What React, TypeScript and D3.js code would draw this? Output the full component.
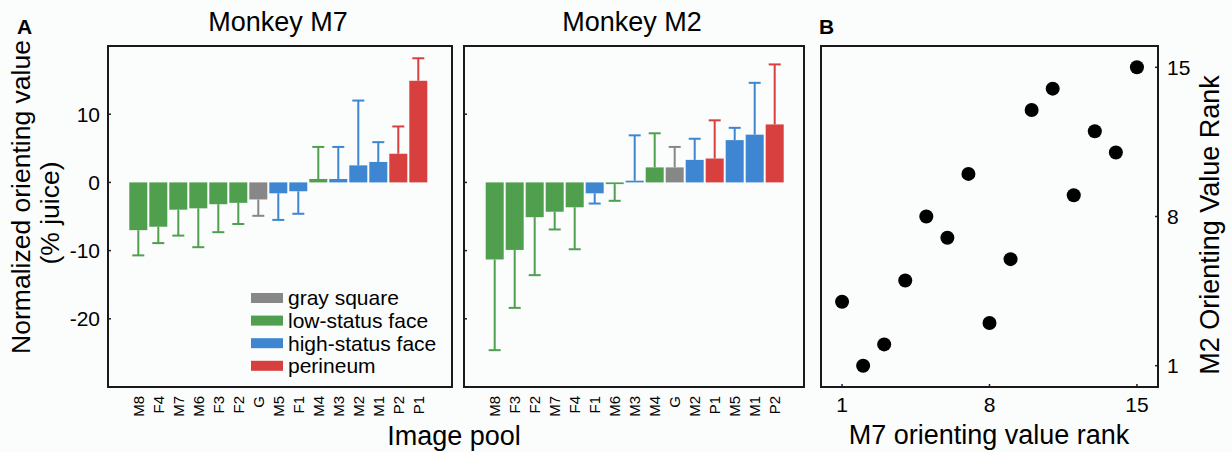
import React from "react";
import * as d3 from "d3";

const m7Categories = ["M8","F4","M7","M6","F3","F2","G","M5","F1","M4","M3","M2","M1","P2","P1"];
const m7Types = ["low","low","low","low","low","low","gray","high","high","low","high","high","high","per","per"];
const m7Values = [-7.0,-6.5,-4.0,-3.8,-3.2,-3.0,-2.5,-1.6,-1.3,0.5,0.5,2.5,3.0,4.2,14.9];
const m7Errors = [3.7,2.4,3.8,5.7,4.1,3.1,2.4,3.9,3.3,4.7,4.7,9.5,2.9,4.0,3.3];

const m2Categories = ["M8","F3","F2","M7","F4","F1","M6","M3","M4","G","M2","P1","M5","M1","P2"];
const m2Types = ["low","low","low","low","low","high","low","high","low","gray","high","per","high","high","per"];
const m2Values = [-11.3,-9.9,-5.1,-4.3,-3.65,-1.6,-0.25,0.25,2.2,2.2,3.3,3.5,6.2,7.0,8.5];
const m2Errors = [13.3,8.5,8.5,2.6,6.15,1.5,2.45,6.65,5.0,3.0,3.1,5.6,1.8,7.6,8.8];

const yTicks = [10, 0, -10, -20];

const legendKeys = ["gray","low","high","per"];
const legendLabels = ["gray square","low-status face","high-status face","perineum"];

const m7Rank = [1,2,3,4,5,6,7,8,9,10,11,12,13,14,15];
const m2Rank = [4,1,2,5,8,7,10,3,6,13,14,9,12,11,15];
const rankTicks = [1, 8, 15];

const colors: Record<string,string> = {
  gray: "#878787",
  low: "#4f9f4f",
  high: "#3e86d2",
  per: "#d83f3f",
};

const FONT = "'Liberation Sans', Arial, Helvetica, sans-serif";
const TOP = 46;
const BOTTOM = 387;
const BIG = 27;

function BarPanel(props: {
  cats: string[]; types: string[]; values: number[]; errors: number[];
  left: number; right: number; barStart: number; title: string; showY: boolean; legend: boolean;
}) {
  const { cats, types, values, errors, left, right, barStart, title, showY, legend } = props;
  const y = d3.scaleLinear().domain([-30, 20]).range([BOTTOM, TOP]);
  const x = d3.scaleBand<string>().domain(cats).range([barStart, barStart + 20 * 14.9]).paddingInner(0.1);
  const bw = x.bandwidth();
  return (
    <g>
      <text x={(left + right) / 2 - 2} y={31} textAnchor="middle" fontSize={BIG} fontFamily={FONT}>{title}</text>
      {cats.map((c, i) => {
        const v = values[i];
        const x0 = x(c)!;
        const cx = x0 + bw / 2;
        const y0 = y(0);
        const yv = y(v);
        const ye = y(v >= 0 ? v + errors[i] : v - errors[i]);
        const col = colors[types[i]];
        return (
          <g key={c}>
            <line x1={cx} x2={cx} y1={yv} y2={ye} stroke={col} strokeWidth={2} />
            <line x1={cx - 6} x2={cx + 6} y1={ye} y2={ye} stroke={col} strokeWidth={2} />
            <rect x={x0} width={bw} y={Math.min(y0, yv)} height={Math.max(Math.abs(yv - y0), 1.5)} fill={col} />
            <text transform={`translate(${cx},396) rotate(-90)`} textAnchor="end" dy="0.35em" fontSize={15} fontFamily={FONT}>{c}</text>
          </g>
        );
      })}
      {yTicks.map(t => (
        <g key={t}>
          <line x1={left} x2={left + 3} y1={y(t)} y2={y(t)} stroke="#222" strokeWidth={1.5} />
          {showY && <text x={100} y={y(t)} dy="0.35em" textAnchor="end" fontSize={21} fontFamily={FONT}>{t}</text>}
        </g>
      ))}
      <rect x={left} y={TOP} width={right - left} height={BOTTOM - TOP} fill="none" stroke="#1a1a1a" strokeWidth={2} />
      {legend && legendKeys.map((k, i) => {
        const cy = 298 + i * 22.6;
        return (
          <g key={k}>
            <rect x={251} y={cy - 5} width={32} height={10} fill={colors[k]} />
            <text x={288} y={cy} dy="0.35em" fontSize={21} fontFamily={FONT}>{legendLabels[i]}</text>
          </g>
        );
      })}
    </g>
  );
}

function Scatter() {
  const left = 821, right = 1158;
  const x = d3.scaleLinear().domain([0, 16]).range([left, right]);
  const y = d3.scaleLinear().domain([0, 16]).range([BOTTOM, TOP]);
  return (
    <g>
      <text x={819} y={34} fontSize={21} fontWeight="bold" fontFamily={FONT}>B</text>
      {m7Rank.map((r, i) => (
        <circle key={i} cx={x(r)} cy={y(m2Rank[i])} r={7} fill="#000" />
      ))}
      {rankTicks.map(t => (
        <g key={t}>
          <line x1={x(t)} x2={x(t)} y1={BOTTOM} y2={BOTTOM - 3} stroke="#222" strokeWidth={1.5} />
          <text x={x(t)} y={412} textAnchor="middle" fontSize={21} fontFamily={FONT}>{t}</text>
          <line x1={right} x2={right - 3} y1={y(t)} y2={y(t)} stroke="#222" strokeWidth={1.5} />
          <text x={1167} y={y(t)} dy="0.35em" textAnchor="start" fontSize={21} fontFamily={FONT}>{t}</text>
        </g>
      ))}
      <rect x={left} y={TOP} width={right - left} height={BOTTOM - TOP} fill="none" stroke="#1a1a1a" strokeWidth={2} />
      <text x={989} y={444} textAnchor="middle" fontSize={BIG} fontFamily={FONT}>M7 orienting value rank</text>
      <text transform={`translate(1210,225) rotate(-90)`} textAnchor="middle" dy="0.35em" fontSize={BIG} fontFamily={FONT}>M2 Orienting Value Rank</text>
    </g>
  );
}

export default function App() {
  return (
    <svg width={1232} height={452} style={{ position: "absolute", left: 0, top: 0, background: "#fbfcfc" }}>
      <rect x={0} y={0} width={1232} height={452} fill="#fbfcfc" />
      <text x={17} y={34} fontSize={21} fontWeight="bold" fontFamily={FONT}>A</text>
      <text transform="translate(21,197) rotate(-90)" textAnchor="middle" dy="0.35em" fontSize={26.5} fontFamily={FONT}>Normalized orienting value</text>
      <text transform="translate(50,213) rotate(-90)" textAnchor="middle" dy="0.35em" fontSize={26.5} fontFamily={FONT}>(% juice)</text>
      <BarPanel cats={m7Categories} types={m7Types} values={m7Values} errors={m7Errors}
        left={108} right={452} barStart={129.3} title="Monkey M7" showY={true} legend={true} />
      <BarPanel cats={m2Categories} types={m2Types} values={m2Values} errors={m2Errors}
        left={464} right={804} barStart={485.7} title="Monkey M2" showY={false} legend={false} />
      <text x={454} y={445} textAnchor="middle" fontSize={BIG} fontFamily={FONT}>Image pool</text>
      <Scatter />
    </svg>
  );
}
